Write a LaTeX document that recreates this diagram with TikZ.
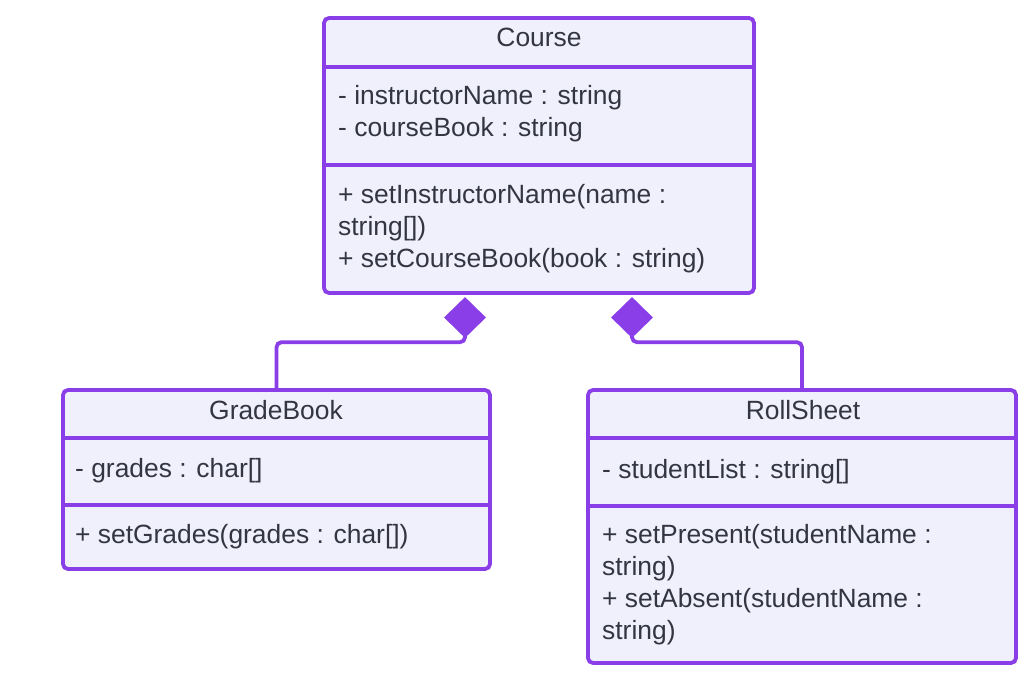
\documentclass[tikz,border=0pt]{standalone}
\usepackage{fontspec}
\setmainfont{Liberation Sans}
\usetikzlibrary{shapes.geometric}
\definecolor{umlline}{RGB}{137,62,232}
\definecolor{umlfill}{RGB}{240,240,252}
\definecolor{umltext}{RGB}{51,54,66}
\tikzset{
    classbox/.style={draw=umlline, fill=umlfill, line width=3.8pt, rounded corners=5pt, inner sep=0pt},
    divider/.style={umlline, line width=3.8pt},
    member/.style={anchor=base west, inner sep=0pt, text=umltext, font=\fontsize{26.4}{32}\selectfont},
    title/.style={member, anchor=base},
    owner/.style={diamond, fill=umlline, inner sep=0pt, minimum width=42pt, minimum height=41pt},
    assoc/.style={umlline, line width=3.8pt, rounded corners=5pt}
}
\begin{document}
\begin{tikzpicture}[x=1pt, y=-1pt]
            \useasboundingbox (0,0) rectangle (1036,674);

            % class boxes
            \node[classbox, minimum width=430pt, minimum height=275pt] (course) at (539,155.5) {};
            \node[classbox, minimum width=427pt, minimum height=179pt] (gradebook) at (276.5,479.5) {};
            \node[classbox, minimum width=428pt, minimum height=273pt] (rollsheet) at (802,526.5) {};

            \draw[divider] (324,67) -- (754,67);
            \draw[divider] (324,165) -- (754,165);
            \draw[divider] (63,438) -- (490,438);
            \draw[divider] (63,505) -- (490,505);
            \draw[divider] (588,438) -- (1016,438);
            \draw[divider] (588,506) -- (1016,506);

            % titles
            \node[title] (course-t) at (539,47) {Course};
            \node[title] (gradebook-t) at (276,419) {GradeBook};
            \node[title] (rollsheet-t) at (803,419) {RollSheet};

            % members
            \foreach \t [count=\i from 0] in {- instructorName : string, - courseBook : string}
                \node[member] (course-a\i) at (338,105+32*\i) {\t};
            \foreach \t [count=\i from 0] in {+ setInstructorName(name :, {string[])}, + setCourseBook(book : string)}
                \node[member] (course-m\i) at (338,203+32*\i) {\t};

            \node[member] (gradebook-a0) at (75,477) {- grades : char[]};
            \node[member] (gradebook-m0) at (75,543) {+ setGrades(grades : char[])};

            \node[member] (rollsheet-a0) at (602,478) {- studentList : string[]};
            \foreach \t [count=\i from 0] in {+ setPresent(studentName :, string), + setAbsent(studentName :, string)}
                \node[member] (rollsheet-m\i) at (602,543+32*\i) {\t};

            % composition
            \node[owner] (own-g) at (465,317.5) {};
            \node[owner] (own-r) at (632,317.5) {};

            \draw[assoc] (own-g.south) -- ++(0,4) -| (gradebook.north);
            \draw[assoc] (own-r.south) -- ++(0,4) -| (rollsheet.north);
        \end{tikzpicture}
\end{document}
